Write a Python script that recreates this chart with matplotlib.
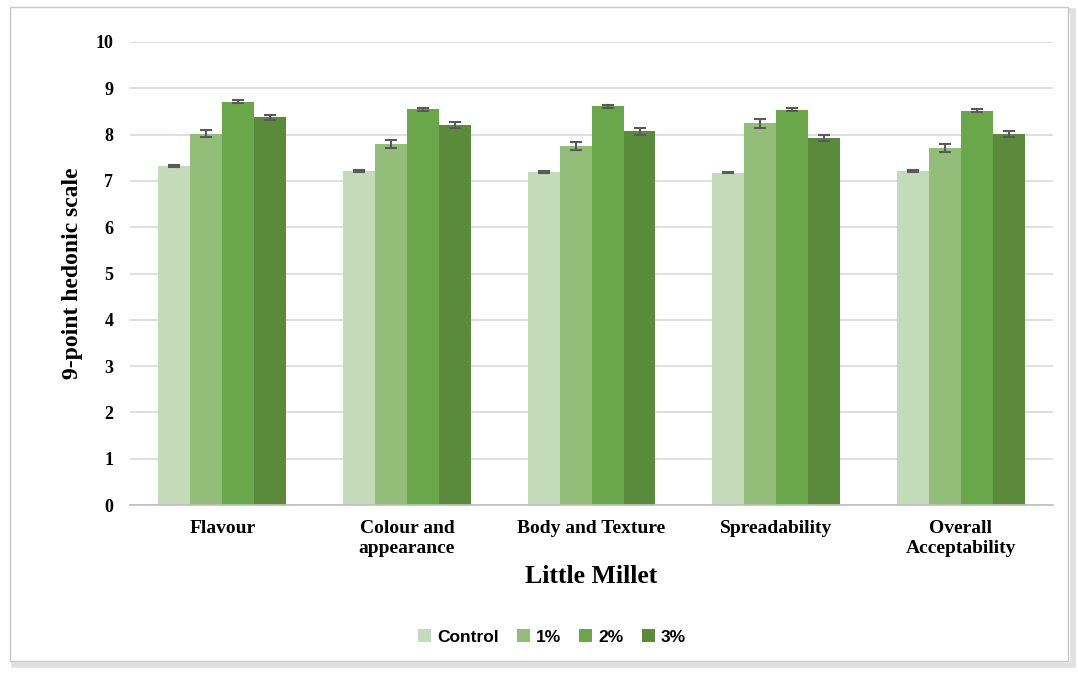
"""Little Millet sensory scores: grouped bars with error bars."""
import numpy as np
import matplotlib.pyplot as plt
from matplotlib.patches import Rectangle

plt.rcParams.update({"font.family": "Liberation Serif", "font.weight": "bold"})

categories = ["Flavour", "Colour and\nappearance", "Body and Texture",
              "Spreadability", "Overall\nAcceptability"]
series = ["Control", "1%", "2%", "3%"]
values = {
    "Control": [7.33, 7.22, 7.20, 7.18, 7.22],
    "1%":      [8.02, 7.80, 7.76, 8.24, 7.71],
    "2%":      [8.71, 8.55, 8.61, 8.54, 8.52],
    "3%":      [8.37, 8.21, 8.07, 7.93, 8.01],
}
errors = {
    "Control": [0.02, 0.02, 0.02, 0.02, 0.02],
    "1%":      [0.08, 0.08, 0.09, 0.10, 0.09],
    "2%":      [0.03, 0.03, 0.03, 0.03, 0.03],
    "3%":      [0.06, 0.07, 0.07, 0.07, 0.07],
}
colors = ["#c3dbb8", "#93be7a", "#6aa74a", "#5a8b3b"]

fig = plt.figure(figsize=(10.78, 6.73), dpi=100)
# framed chart area with a soft shadow
fig.patches.append(Rectangle((0.013, 0.012), 0.982, 0.972, transform=fig.transFigure,
                             facecolor="none", edgecolor="#e0e0e0", linewidth=4, zorder=-10))
fig.patches.append(Rectangle((0.009, 0.018), 0.982, 0.972, transform=fig.transFigure,
                             facecolor="white", edgecolor="#c8c8c8", linewidth=1, zorder=-9))

ax = fig.add_axes([0.1206, 0.2496, 0.8564, 0.688])
ax.patch.set_alpha(0)
x = np.arange(len(categories))
w = 0.173
for i, (s, c) in enumerate(zip(series, colors)):
    ax.bar(x + (i - 1.5) * w, values[s], w, color=c, label=s, zorder=2,
           yerr=errors[s], capsize=4.5,
           error_kw={"ecolor": "#595959", "elinewidth": 1.5, "capthick": 1.5})

ax.set_ylim(0, 10)
ax.set_xlim(-0.5, len(categories) - 0.5)
ax.set_yticks(range(0, 11))
ax.yaxis.grid(True, color="#d9d9d9", linewidth=1.2, zorder=0)
ax.set_axisbelow(True)
for sp in ("top", "right", "left"):
    ax.spines[sp].set_visible(False)
ax.spines["bottom"].set_color("#bfbfbf")
ax.spines["bottom"].set_linewidth(1.2)
ax.tick_params(axis="y", length=0, labelsize=13, pad=12)
ax.tick_params(axis="x", length=0, labelsize=14, pad=11)
ax.set_xticks(x)
ax.set_xticklabels(categories, fontweight="bold")
for t in ax.get_yticklabels():
    t.set_fontweight("bold")
ax.set_xlabel("Little Millet", fontsize=18.5, fontweight="bold", labelpad=6)
ax.set_ylabel("9-point hedonic scale", fontsize=17, fontweight="bold", labelpad=9)

leg = ax.legend(loc="center", bbox_to_anchor=(0.457, -0.285), ncol=4, frameon=False,
                prop={"family": "Liberation Sans", "weight": "bold", "size": 12.5},
                handlelength=0.75, handleheight=0.75, columnspacing=1.05, handletextpad=0.35)

fig.savefig("out.png", dpi=100)
